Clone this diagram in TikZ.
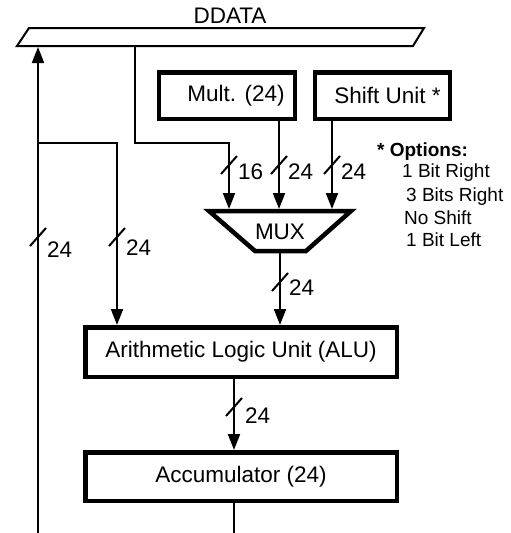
\documentclass[tikz,border=0pt]{standalone}
\usepackage{fontspec}
\setmainfont{Liberation Sans}
\usetikzlibrary{arrows.meta}

\tikzset{
	block/.style={draw,line width=4.5pt,inner sep=0pt,font=\fontsize{22.5}{27}\selectfont},
	wire/.style={line width=2pt},
	arrowwire/.style={wire,-{Triangle[length=16pt,width=12pt]}},
	slash/.style={line width=2pt},
	lbl/.style={font=\fontsize{22.5}{27}\selectfont,inner sep=0pt,anchor=west},
	note/.style={font=\fontsize{19}{22}\selectfont,inner sep=0pt,anchor=west},
}

\begin{document}
\begin{tikzpicture}[x=1pt,y=-1pt]
	\useasboundingbox (0,0) rectangle (511,533);
	% data bus
	\draw[wire,line join=miter] (29,28) -- (424,28) -- (413,46) -- (17,46) -- cycle;
	\node[lbl,anchor=center] (ddata) at (230,16) {DDATA};
	\coordinate (tapA) at (38,47);
	\coordinate (tapB) at (135,47);
	% units
	\node[block,minimum width=136pt,minimum height=46.5pt] (mult) at (227,95.5) {\hspace*{18pt}Mult. (24)};
	\node[block,minimum width=135pt,minimum height=46.5pt] (shift) at (382.5,95.5) {\hspace*{10pt}Shift Unit *};
	\node[block,minimum width=311.5pt,minimum height=49.5pt] (alu) at (241,352) {Arithmetic Logic Unit (ALU)};
	\node[block,minimum width=311.5pt,minimum height=48.5pt] (acc) at (241,476.5) {Accumulator (24)};
	% mux
	\draw[line width=4.5pt,line join=miter] (209,211) -- (351,211) -- (306,251) -- (255,251) -- cycle;
	\node[lbl,anchor=center] (mux) at (280,232) {MUX};
	\coordinate (muxA) at (229,209);
	\coordinate (muxB) at (279,209);
	\coordinate (muxC) at (332,209);
	\coordinate (muxO) at (280,253);
	% corners and free ends
	\coordinate (bot1) at (38,533);
	\coordinate (bot2) at (234,533);
	\coordinate (jL) at (38,143);
	\coordinate (jR) at (117,143);
	\coordinate (kA) at (135,143);
	\coordinate (kB) at (229,143);
	% wires
	\draw[arrowwire] (bot1) -- (tapA);
	\draw[arrowwire] (jL) -- (jR) -- (jR |- alu.north);
	\draw[arrowwire] (tapB) -- (kA) -- (kB) -- (muxA);
	\draw[arrowwire] (mult.south -| muxB) -- (muxB);
	\draw[arrowwire] (shift.south -| muxC) -- (muxC);
	\draw[arrowwire] (muxO) -- (muxO |- alu.north);
	\draw[arrowwire] ([xshift=-7pt]alu.south) -- ([xshift=-7pt]acc.north);
	\draw[wire] ([xshift=-7pt]acc.south) -- (bot2);
	% bus widths
	\draw[slash] (30,246) -- (46,228);
	\node[lbl] (w1) at (47,250) {24};
	\draw[slash] (109,246) -- (125,228);
	\node[lbl] (w2) at (126,248) {24};
	\draw[slash] (221,174) -- (237,156);
	\node[lbl] (w3) at (238,172) {16};
	\draw[slash] (271,174) -- (287,156);
	\node[lbl] (w4) at (288,172) {24};
	\draw[slash] (324,174) -- (340,156);
	\node[lbl] (w5) at (341,172) {24};
	\draw[slash] (272,291) -- (288,273);
	\node[lbl] (w6) at (289,288) {24};
	\draw[slash] (226,416) -- (242,398);
	\node[lbl] (w7) at (245,416) {24};
	% shift options
	\node[note,font=\bfseries\fontsize{19}{22}\selectfont] (opt) at (377,152) {* Options:};
	\node[note] (opt1) at (402,173) {1 Bit Right};
	\node[note] (opt2) at (406,197) {3 Bits Right};
	\node[note] (opt3) at (404,218) {No Shift};
	\node[note] (opt4) at (406,240) {1 Bit Left};
\end{tikzpicture}
\end{document}
